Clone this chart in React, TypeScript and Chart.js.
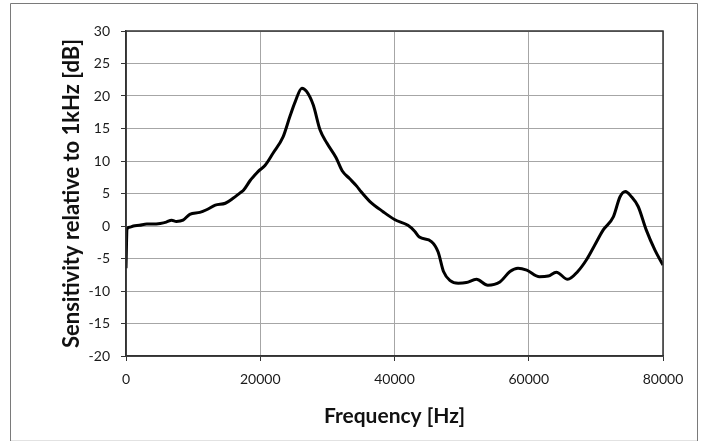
import React, { useEffect, useRef } from "react";
import { Chart, registerables } from "chart.js";

Chart.register(...registerables);

const frequencies = [
  0, 150, 500, 1100, 2000, 3100, 4000, 5100, 6000, 6800, 7500, 8500, 9500, 11000, 12000,
  13300, 14800, 16000, 17000, 17500, 18500, 19000, 19700, 20700, 21900, 23400, 24400,
  25200, 26200, 26900, 27900, 28900, 29900, 31300, 32200, 33300, 34400, 35000, 36300,
  38300, 40000, 42000, 43000, 43700, 45500, 46500, 47300, 48300, 49500, 50700, 52200,
  53900, 55700, 57200, 58400, 59700, 61600, 62900, 64100, 65800, 67300, 68600, 69800,
  71100, 72600, 73600, 74400, 75300, 76300, 77500, 78800, 80000,
];

const sensitivity = [
  -6.5, -0.5, -0.2, 0.0, 0.1, 0.3, 0.3, 0.4, 0.6, 0.9, 0.7, 0.9, 1.8, 2.1, 2.5,
  3.2, 3.5, 4.3, 5.1, 5.5, 7.0, 7.6, 8.4, 9.3, 11.2, 13.7, 16.8,
  19.1, 21.2, 20.7, 18.6, 14.8, 12.8, 10.5, 8.5, 7.3, 6.1, 5.3, 3.8,
  2.2, 1.0, 0.1, -0.8, -1.7, -2.4, -4.0, -7.0, -8.4, -8.8, -8.7, -8.2,
  -9.1, -8.6, -7.0, -6.5, -6.8, -7.8, -7.7, -7.1, -8.2, -7.0, -5.2, -3.0,
  -0.6, 1.4, 4.5, 5.3, 4.5, 3.0, -0.6, -3.7, -6.0,
];

const xTitle = "Frequency [Hz]";
const yTitle = "Sensitivity relative to 1kHz [dB]";
const xMin = 0;
const xMax = 80000;
const xStep = 20000;
const yMin = -20;
const yMax = 30;
const yStep = 5;

const FONT = "Lato, 'Liberation Sans', sans-serif";

export default function App() {
  const ref = useRef<HTMLCanvasElement | null>(null);

  useEffect(() => {
    if (!ref.current) return;
    const framePlugin = {
      id: "frame",
      beforeDraw(chart: any) {
        const ctx = chart.ctx;
        ctx.save();
        ctx.fillStyle = "#ffffff";
        ctx.fillRect(0, 0, chart.width, chart.height);
        ctx.lineWidth = 1;
        ctx.strokeStyle = "#7a7a7a";
        ctx.beginPath();
        ctx.moveTo(10.5, 441);
        ctx.lineTo(10.5, 3.5);
        ctx.lineTo(697.5, 3.5);
        ctx.lineTo(697.5, 441);
        ctx.stroke();
        ctx.strokeStyle = "#e2e2e2";
        ctx.beginPath();
        ctx.moveTo(11, 440.5);
        ctx.lineTo(697, 440.5);
        ctx.stroke();
        ctx.restore();
      },
      afterDatasetsDraw(chart: any) {
        const a = chart.chartArea;
        const ctx = chart.ctx;
        ctx.save();
        ctx.strokeStyle = "#333333";
        ctx.lineWidth = 1.5;
        ctx.strokeRect(a.left, a.top, a.right - a.left, a.bottom - a.top);
        ctx.restore();
      },
    };

    const chart = new Chart(ref.current, {
      type: "line",
      data: {
        datasets: [
          {
            data: frequencies.map((f, i) => ({ x: f, y: sensitivity[i] })),
            borderColor: "#000000",
            borderWidth: 3,
            pointRadius: 0,
            cubicInterpolationMode: "monotone",
            fill: false,
          },
        ],
      },
      options: {
        responsive: false,
        animation: false,
        layout: { padding: { left: 0, top: 31, right: 40, bottom: 0 } },
        plugins: { legend: { display: false }, tooltip: { enabled: false } },
        scales: {
          x: {
            type: "linear",
            min: xMin,
            max: xMax,
            afterFit: (s: any) => {
              s.height = 85;
            },
            ticks: {
              stepSize: xStep,
              color: "#1a1a1a",
              font: { family: FONT, size: 14 },
              padding: 10,
              maxRotation: 0,
              callback: (v: any) => String(v),
            },
            grid: { color: "#a6a6a6", lineWidth: 1, tickLength: 5, tickColor: "#333333" },
            border: { display: true, color: "#333333", width: 1.5 },
            title: {
              display: true,
              text: xTitle,
              color: "#111111",
              font: { family: FONT, size: 21, weight: "bold" },
              padding: { top: 0, bottom: 12 },
            },
          },
          y: {
            type: "linear",
            min: yMin,
            max: yMax,
            afterFit: (s: any) => {
              s.width = 126;
            },
            ticks: {
              stepSize: yStep,
              color: "#1a1a1a",
              font: { family: FONT, size: 14 },
              padding: 11,
              callback: (v: any) => String(v),
            },
            grid: { color: "#a6a6a6", lineWidth: 1, tickLength: 5, tickColor: "#333333" },
            border: { display: true, color: "#333333", width: 1.5 },
            title: {
              display: true,
              text: yTitle,
              color: "#111111",
              font: { family: FONT, size: 22, weight: "bold" },
              padding: { top: 59, bottom: 0 },
            },
          },
        },
      },
      plugins: [framePlugin],
    });
    return () => chart.destroy();
  }, []);

  return (
    <div style={{ position: "fixed", left: 0, top: 0, width: 703, height: 441, background: "#fff" }}>
      <canvas ref={ref} width={703} height={441} style={{ width: 703, height: 441, display: "block" }} />
    </div>
  );
}
